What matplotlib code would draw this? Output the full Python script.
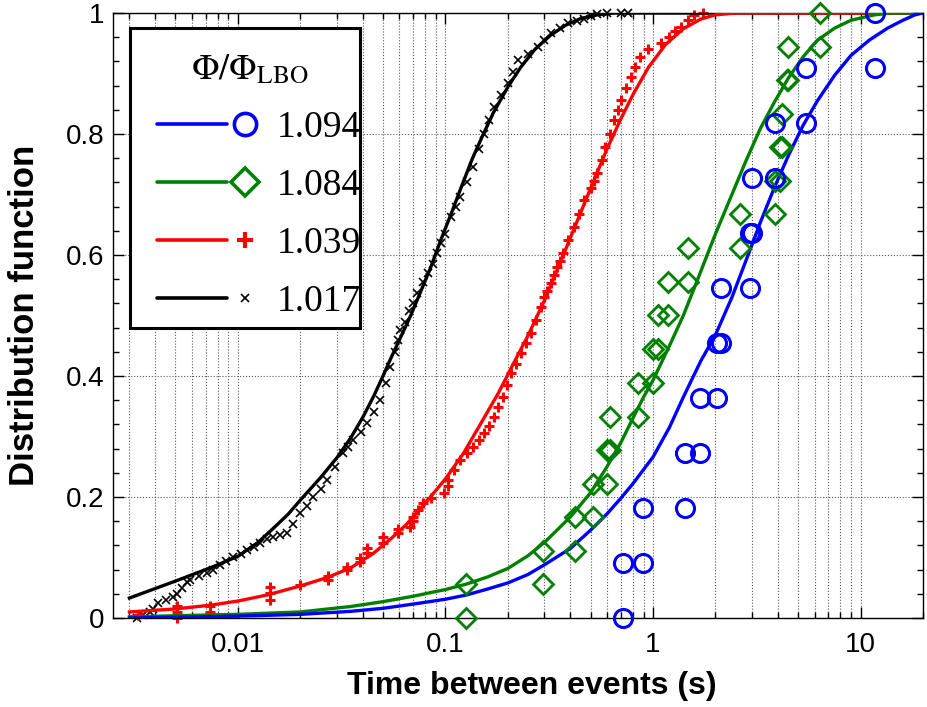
import matplotlib.pyplot as plt
from matplotlib.lines import Line2D
from matplotlib.patches import Rectangle
from matplotlib.legend_handler import HandlerBase
from matplotlib.ticker import LogLocator, NullFormatter, MultipleLocator

plt.rcParams['font.family'] = ['Liberation Sans', 'DejaVu Sans']
plt.rcParams['mathtext.fontset'] = 'stix'

# Phi/Phi_LBO = 1.094 : empirical points (step corners) and fitted curve
x_1094 = [0.72, 0.72, 0.895, 0.895, 1.43, 1.43, 1.69, 1.69, 2.04, 2.04, 2.12, 2.12,
          2.94, 2.94, 3.0, 3.0, 3.85, 3.85, 5.48, 5.48, 11.7, 11.7]
y_1094 = [0.0, 0.091, 0.091, 0.182, 0.182, 0.273, 0.273, 0.364, 0.364, 0.455, 0.455, 0.545,
          0.545, 0.636, 0.636, 0.727, 0.727, 0.818, 0.818, 0.909, 0.909, 1.0]
fit_x_1094 = [0.003, 0.01, 0.02, 0.035, 0.05, 0.07, 0.1, 0.126, 0.16, 0.2, 0.25, 0.3, 0.4,
              0.5, 0.6, 0.7, 0.8, 1.0, 1.2, 1.4, 1.7, 2.0, 2.4, 2.8, 3.3, 3.85, 4.5, 5.3,
              6.2, 7.5, 9.0, 11.0, 13.5, 16.0, 18.3, 20]
fit_y_1094 = [0.0, 0.003, 0.006, 0.011, 0.016, 0.023, 0.031, 0.038, 0.048, 0.058, 0.072,
              0.088, 0.115, 0.145, 0.172, 0.198, 0.222, 0.266, 0.315, 0.365, 0.425, 0.468,
              0.53, 0.59, 0.655, 0.712, 0.765, 0.815, 0.855, 0.897, 0.93, 0.955, 0.975,
              0.988, 0.997, 1.0]

# 1.084
x_1084 = [0.126, 0.126, 0.294, 0.294, 0.42, 0.42, 0.513, 0.513, 0.60, 0.60, 0.62, 0.62,
          0.847, 0.847, 1.0, 1.0, 1.06, 1.06, 1.18, 1.18, 1.48, 1.48, 2.63, 2.63,
          3.85, 3.85, 4.1, 4.1, 4.2, 4.2, 4.4, 4.49, 4.49, 6.41, 6.41]
y_1084 = [0.0, 0.056, 0.056, 0.111, 0.111, 0.167, 0.167, 0.222, 0.222, 0.278, 0.278, 0.333,
          0.333, 0.389, 0.389, 0.444, 0.444, 0.5, 0.5, 0.556, 0.556, 0.611, 0.611, 0.667,
          0.667, 0.722, 0.722, 0.778, 0.778, 0.833, 0.889, 0.889, 0.944, 0.944, 1.0]
fit_x_1084 = [0.003, 0.01, 0.02, 0.035, 0.05, 0.07, 0.1, 0.126, 0.16, 0.2, 0.25, 0.3, 0.4,
              0.5, 0.6, 0.7, 0.8, 0.9, 1.0, 1.2, 1.4, 1.6, 1.8, 2.0, 2.4, 2.8, 3.3, 3.85,
              4.5, 5.3, 6.2, 7.5, 9.0, 11.7, 14.0, 20]
fit_y_1084 = [0.002, 0.006, 0.010, 0.019, 0.027, 0.036, 0.047, 0.056, 0.068, 0.082, 0.103,
              0.125, 0.167, 0.207, 0.25, 0.29, 0.33, 0.365, 0.393, 0.45, 0.50, 0.55, 0.595,
              0.635, 0.70, 0.755, 0.81, 0.853, 0.893, 0.928, 0.955, 0.975, 0.988, 0.997,
              1.0, 1.0]

# 1.039
x_1039 = [0.0033, 0.0051, 0.0051, 0.0051, 0.0073, 0.0073, 0.0143, 0.0143, 0.0143, 0.02,
          0.0272, 0.0272, 0.0336, 0.0336, 0.0388, 0.0388, 0.042, 0.042, 0.05, 0.05, 0.059,
          0.059, 0.0677, 0.07, 0.07, 0.074, 0.0775, 0.085, 0.098, 0.103, 0.103, 0.11, 0.118,
          0.127, 0.136, 0.145, 0.153, 0.162, 0.171, 0.18, 0.19, 0.198, 0.206, 0.218, 0.23,
          0.243, 0.257, 0.272, 0.287, 0.30, 0.31, 0.321, 0.335, 0.345, 0.357, 0.37, 0.39,
          0.414, 0.44, 0.465, 0.50, 0.52, 0.54, 0.565, 0.59, 0.62, 0.65, 0.675, 0.70, 0.74,
          0.78, 0.82, 0.87, 0.95, 1.09, 1.2, 1.28, 1.36, 1.47, 1.58, 1.75]
y_1039 = [0.005, 0.0, 0.01, 0.02, 0.01, 0.02, 0.03, 0.041, 0.052, 0.055,
          0.063, 0.07, 0.079, 0.085, 0.092, 0.099, 0.108, 0.115, 0.124, 0.134, 0.14,
          0.147, 0.15, 0.16, 0.167, 0.178, 0.19, 0.198, 0.207, 0.218, 0.228, 0.245, 0.261,
          0.272, 0.283, 0.295, 0.305, 0.318, 0.332, 0.348, 0.365, 0.385, 0.405, 0.42, 0.438,
          0.455, 0.471, 0.492, 0.514, 0.53, 0.54, 0.553, 0.567, 0.58, 0.59, 0.603, 0.625,
          0.646, 0.668, 0.691, 0.71, 0.722, 0.735, 0.757, 0.779, 0.80, 0.823, 0.84, 0.856,
          0.876, 0.895, 0.91, 0.927, 0.94, 0.95, 0.96, 0.97, 0.977, 0.988, 0.997, 1.0]
fit_x_1039 = [0.003, 0.005, 0.0073, 0.01, 0.0138, 0.02, 0.027, 0.035, 0.045, 0.055, 0.065,
              0.08, 0.1, 0.122, 0.15, 0.18, 0.21, 0.25, 0.3, 0.36, 0.43, 0.5, 0.6, 0.7, 0.8,
              0.95, 1.15, 1.4, 1.7, 2.0, 2.5, 20]
fit_y_1039 = [0.010, 0.015, 0.021, 0.028, 0.038, 0.053, 0.067, 0.083, 0.107, 0.132, 0.155,
              0.19, 0.23, 0.272, 0.325, 0.372, 0.417, 0.467, 0.525, 0.59, 0.655, 0.71, 0.775,
              0.825, 0.865, 0.91, 0.948, 0.974, 0.99, 0.997, 1.0, 1.0]

# 1.017
x_1017 = [0.00325, 0.0035, 0.00375, 0.0039, 0.0041, 0.0045, 0.00486, 0.0051, 0.0054, 0.0057,
          0.0059, 0.0065, 0.0071, 0.0076, 0.0082, 0.0088, 0.0095, 0.0103, 0.011, 0.0119,
          0.0128, 0.0138, 0.0148, 0.016, 0.0172, 0.0185, 0.020, 0.0215, 0.0231, 0.025,
          0.0269, 0.0295, 0.0322, 0.034, 0.036, 0.039, 0.042, 0.045, 0.0486, 0.0515, 0.0543,
          0.057, 0.0593, 0.0607, 0.064, 0.067, 0.070, 0.0733, 0.078, 0.082, 0.087, 0.0915,
          0.095, 0.099, 0.106, 0.112, 0.118, 0.127, 0.136, 0.145, 0.153, 0.162, 0.171, 0.185,
          0.20, 0.211, 0.223, 0.25, 0.279, 0.30, 0.321, 0.355, 0.389, 0.43, 0.465, 0.50,
          0.54, 0.6, 0.7, 0.76]
y_1017 = [0.0, 0.005, 0.01, 0.015, 0.025, 0.03, 0.035, 0.04, 0.05, 0.06,
          0.063, 0.07, 0.074, 0.08, 0.088, 0.094, 0.10, 0.106, 0.112, 0.118,
          0.124, 0.13, 0.134, 0.137, 0.14, 0.155, 0.173, 0.185, 0.20, 0.213,
          0.228, 0.25, 0.272, 0.283, 0.294, 0.308, 0.322, 0.34, 0.36, 0.388, 0.415,
          0.44, 0.46, 0.476, 0.49, 0.507, 0.52, 0.537, 0.555, 0.57, 0.585, 0.603,
          0.62, 0.635, 0.663, 0.68, 0.696, 0.72, 0.745, 0.775, 0.80, 0.823, 0.845, 0.865,
          0.884, 0.903, 0.922, 0.933, 0.944, 0.955, 0.967, 0.975, 0.983, 0.987, 0.99, 0.995,
          0.998, 1.0, 1.0, 1.0]
fit_x_1017 = [0.003, 0.005, 0.0075, 0.01, 0.0125, 0.015, 0.0175, 0.02, 0.025, 0.03, 0.035,
              0.04, 0.045, 0.05, 0.055, 0.061, 0.068, 0.075, 0.085, 0.095, 0.107, 0.12, 0.135,
              0.15, 0.17, 0.2, 0.23, 0.27, 0.32, 0.38, 0.45, 0.54, 0.65, 20]
fit_y_1017 = [0.033, 0.061, 0.084, 0.102, 0.125, 0.150, 0.172, 0.195, 0.232, 0.265, 0.298,
              0.332, 0.366, 0.40, 0.432, 0.465, 0.50, 0.535, 0.58, 0.625, 0.67, 0.715, 0.76,
              0.795, 0.835, 0.878, 0.91, 0.94, 0.963, 0.98, 0.991, 0.997, 1.0, 1.0]

labels = ['1.094', '1.084', '1.039', '1.017']
colors = ['#0000ff', '#008000', '#ff0000', '#000000']

fig = plt.figure(figsize=(9.27, 7.07), dpi=100)
ax = fig.add_axes([0.1219, 0.1259, 0.8738, 0.8557])

lw_fit = 2.4
ax.plot(fit_x_1017, fit_y_1017, color=colors[3], lw=lw_fit, zorder=3)
ax.plot(x_1017, y_1017, ls='none', marker='x', ms=6, mew=1.2, color=colors[3], zorder=2, clip_on=False)
ax.plot(fit_x_1039, fit_y_1039, color=colors[2], lw=lw_fit, zorder=3)
ax.plot(x_1039, y_1039, ls='none', marker='+', ms=7, mew=2.2, color=colors[2], zorder=2, clip_on=False)
ax.plot(fit_x_1084, fit_y_1084, color=colors[1], lw=lw_fit, zorder=3)
ax.plot(x_1084, y_1084, ls='none', marker='D', ms=10, mew=2.0, mfc='none', mec=colors[1],
        zorder=4, clip_on=False)
ax.plot(fit_x_1094, fit_y_1094, color=colors[0], lw=lw_fit, zorder=3)
ax.plot(x_1094, y_1094, ls='none', marker='o', ms=13, mew=2.2, mfc='none', mec=colors[0],
        zorder=4, clip_on=False)

ax.set_xscale('log')
ax.set_xlim(0.0025, 20)
ax.set_ylim(0, 1)
ax.set_xticks([0.01, 0.1, 1, 10])
ax.set_xticklabels(['0.01', '0.1', '1', '10'])
ax.xaxis.set_minor_locator(LogLocator(base=10, subs=range(2, 10), numticks=20))
ax.xaxis.set_minor_formatter(NullFormatter())
ax.set_yticks([0, 0.2, 0.4, 0.6, 0.8, 1.0])
ax.set_yticklabels(['0', '0.2', '0.4', '0.6', '0.8', '1'])
ax.yaxis.set_minor_locator(MultipleLocator(0.04))

ax.tick_params(which='both', direction='in', top=True, right=True, labelsize=20, width=1)
ax.tick_params(which='major', length=8)
ax.tick_params(which='minor', length=4)
ax.tick_params(axis='x', pad=10)
ax.tick_params(axis='y', pad=6)

ax.grid(True, which='both', axis='x', ls=':', color='0.35', lw=0.8)
ax.grid(True, which='major', axis='y', ls=':', color='0.35', lw=0.8)
for sp in ax.spines.values():
    sp.set_linewidth(1.0)

ax.set_xlabel('Time between events (s)', fontsize=23, fontweight='bold')
ax.set_ylabel('Distribution function', fontsize=25, fontweight='bold')
ax.xaxis.set_label_coords(0.517, -0.087)
ax.yaxis.set_label_coords(-0.089, 0.5)


class LineThenMarker(HandlerBase):
    # legend entry like matlab: line first, marker right after it
    def create_artists(self, legend, orig_handle, xdescent, ydescent,
                       width, height, fontsize, trans):
        y = height / 2 - ydescent
        x0 = -xdescent
        line = Line2D([x0 + 0.15 * width, x0 + 0.74 * width], [y, y],
                      color=orig_handle.get_color(), lw=orig_handle.get_linewidth(),
                      solid_capstyle='round')
        mk = Line2D([x0 + 0.89 * width], [y], ls='none', marker=orig_handle.get_marker(),
                    ms=orig_handle.get_markersize(), mfc='none',
                    mec=orig_handle.get_color(), mew=orig_handle.get_markeredgewidth())
        line.set_transform(trans)
        mk.set_transform(trans)
        return [line, mk]


handles = [
    Line2D([], [], color=colors[0], lw=2.6, marker='o', ms=16, mew=2.6),
    Line2D([], [], color=colors[1], lw=2.6, marker='D', ms=14, mew=2.6),
    Line2D([], [], color=colors[2], lw=2.6, marker='+', ms=11, mew=3),
    Line2D([], [], color=colors[3], lw=2.6, marker='x', ms=6, mew=1.2),
]

# legend box drawn separately so the title can sit lower than matplotlib's padding allows
box = Rectangle((0.021, 0.479), 0.284, 0.496, transform=ax.transAxes, facecolor='white',
                edgecolor='black', lw=2.2, zorder=9)
ax.add_patch(box)

leg = ax.legend(handles, labels, handler_map={Line2D: LineThenMarker()},
                loc='upper left', bbox_to_anchor=(0.021, 0.950), borderaxespad=0,
                title=r'$\Phi/\Phi_{\mathrm{LBO}}$', title_fontsize=26,
                prop={'family': 'Liberation Serif', 'size': 27},
                handlelength=3.17, handletextpad=0.48, labelspacing=0.62,
                borderpad=0.25, frameon=False)
leg.set_zorder(10)

fig.savefig('out.png', dpi=100)
